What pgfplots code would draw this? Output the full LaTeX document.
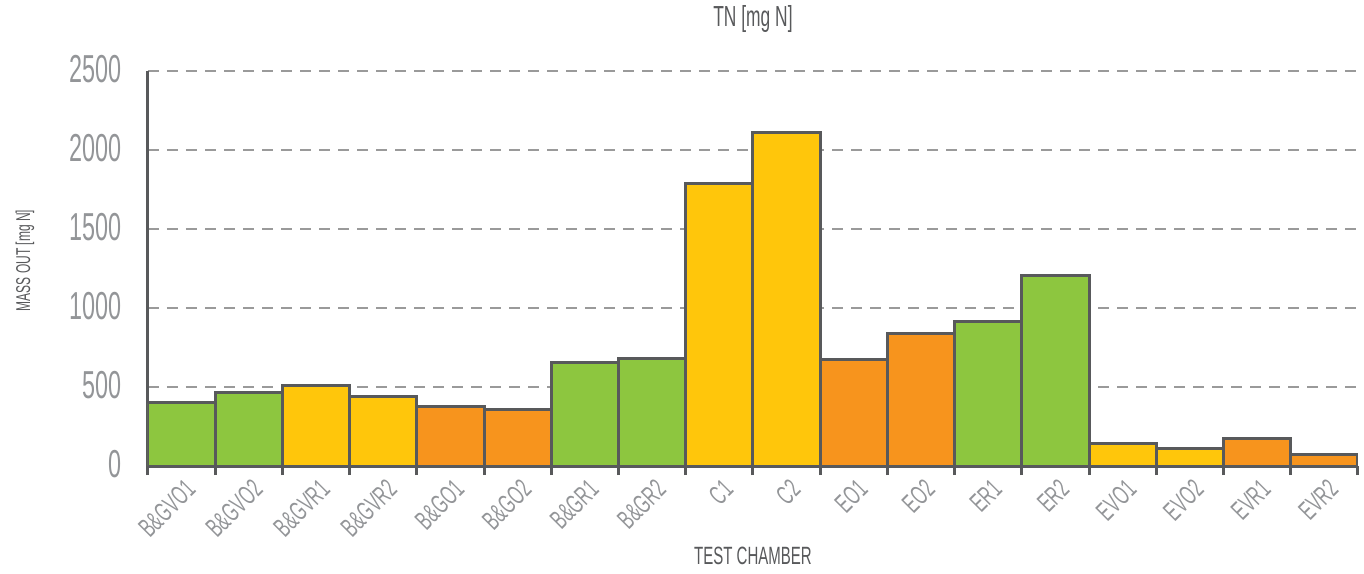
\documentclass[border=0pt]{standalone}
\usepackage{fontspec}
\setmainfont{Liberation Sans}[FakeStretch=0.6]
\usepackage{pgfplots}
\pgfplotsset{compat=1.18}
\definecolor{cgreen}{HTML}{8DC63F}
\definecolor{cyellow}{HTML}{FFC60B}
\definecolor{corange}{HTML}{F7941D}
\definecolor{cline}{HTML}{58595B}
\definecolor{ctick}{HTML}{939598}
\definecolor{cgrid}{HTML}{9A9A9A}
\begin{document}
\begin{tikzpicture}
\begin{axis}[
    at={(0,0)}, anchor=south west,
    scale only axis,
    width=1210pt, height=395pt,
    xmin=-0.5, xmax=17.5,
    ymin=0, ymax=2500,
    axis x line=bottom, axis y line=left,
    axis line style={-, line width=3pt, draw=cline},
    xtick={0,...,17},
    xticklabels={B\&GVO1,B\&GVO2,B\&GVR1,B\&GVR2,B\&GO1,B\&GO2,B\&GR1,B\&GR2,C1,C2,EO1,EO2,ER1,ER2,EVO1,EVO2,EVR1,EVR2},
    minor xtick={-0.5,0.5,...,17.5},
    ytick={0,500,...,2500},
    tick align=outside,
    major tick length=0pt,
    minor tick length=9pt,
    every minor tick/.style={line width=3pt, draw=cline},
    ytick style={draw=none},
    ymajorgrids,
    grid style={dash pattern=on 11pt off 8pt, draw=cgrid, line width=1.3pt},
    /pgf/number format/assume math mode=true,
    /pgf/number format/1000 sep={},
    scaled y ticks=false,
    yticklabel style={font=\fontsize{39}{39}\selectfont, text=ctick, anchor=east, xshift=-23pt, yshift=2pt},
    xticklabel style={font=\fontsize{27}{27}\selectfont, text=ctick, inner sep=0pt, xshift=2pt, yshift=-12pt, rotate=45, anchor=north east},
    title={TN [mg N]},
    title style={font=\fontsize{29}{29}\selectfont, text=cline, at={(0.5,1)}, anchor=center, yshift=46pt},
    xlabel={TEST CHAMBER},
    xlabel style={font=\fontsize{25}{25}\selectfont, text=cline, at={(0.5,0)}, anchor=center, yshift=-90pt},
    ylabel={MASS OUT [mg N]},
    ylabel style={font=\fontsize{20}{20}\selectfont, text=cline, at={(0,0.52)}, anchor=center, yshift=123pt},
]
\addplot[ybar, bar width=1, bar shift=0, fill=cgreen, draw=cline, line width=3pt]
coordinates {(0,400) (1,465) (6,655) (7,680) (12,915) (13,1205)};
\addplot[ybar, bar width=1, bar shift=0, fill=cyellow, draw=cline, line width=3pt]
coordinates {(2,510) (3,440) (8,1790) (9,2110) (14,145) (15,110)};
\addplot[ybar, bar width=1, bar shift=0, fill=corange, draw=cline, line width=3pt]
coordinates {(4,375) (5,360) (10,675) (11,840) (16,175) (17,70)};
\end{axis}
\path[use as bounding box] (-148pt,-107pt) rectangle (1216pt,466pt);
\end{tikzpicture}
\end{document}
